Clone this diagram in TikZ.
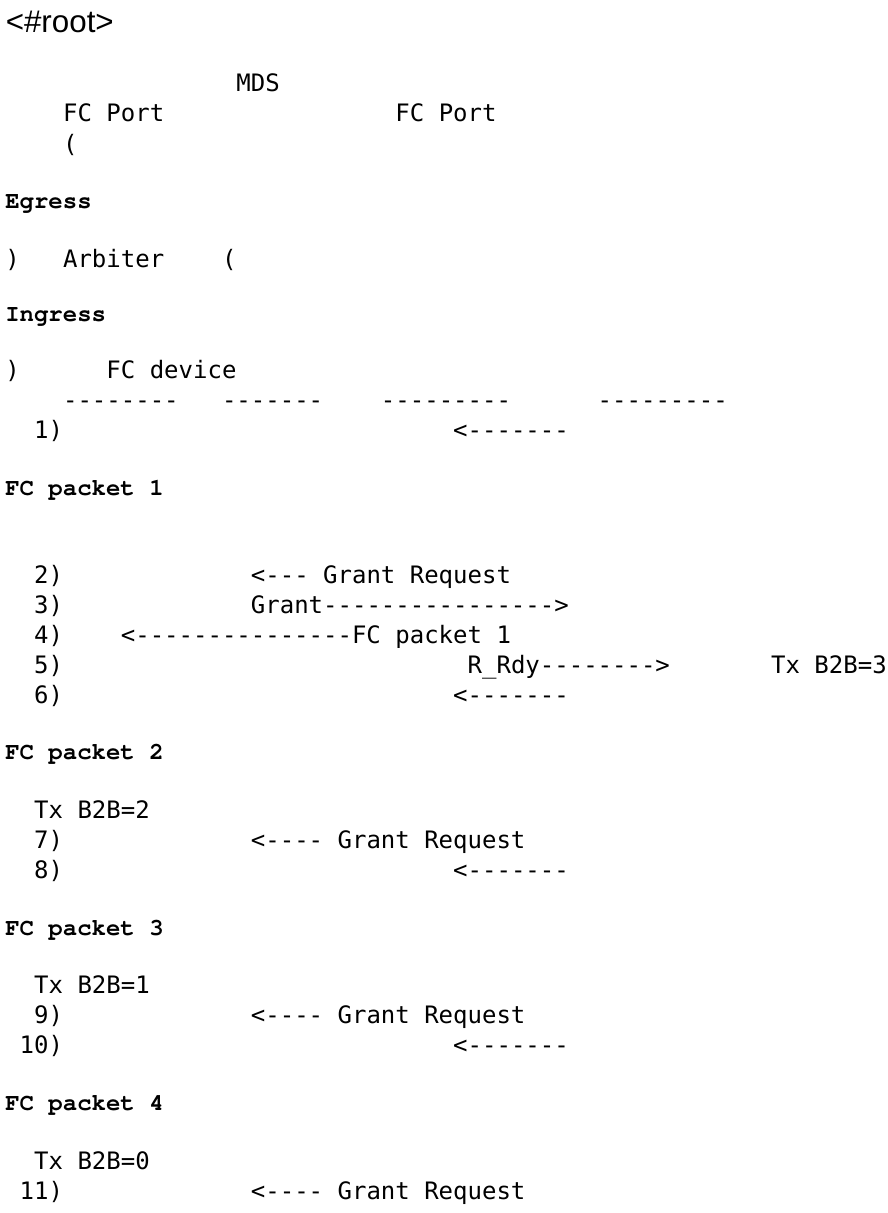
\documentclass[tikz,border=0pt]{standalone}
\usepackage{fontspec}
\setmonofont{DejaVu Sans Mono}
\newfontfamily\courb{texgyrecursor}[Extension=.otf,UprightFont=*-bold]
\newfontfamily\arialf{Liberation Sans}
\newcommand\seg[5]{\node[#4] (#1) at ({5+14.45*#2},#3) {#5};}
\begin{document}
\begin{tikzpicture}[x=0.75pt,y=-0.75pt,
  mono/.style={font=\ttfamily\fontsize{18pt}{18pt}\selectfont, anchor=base west, inner sep=0pt, text=black},
  bold/.style={font=\courb\fontsize{18pt}{18pt}\selectfont, anchor=base west, inner sep=0pt, text=black},
  rootlbl/.style={font=\arialf\fontsize{23.5pt}{23.5pt}\selectfont, anchor=base west, inner sep=0pt, text=black}]
\fill[white] (0,0) rectangle (888,1213);
\useasboundingbox (0,0) rectangle (888,1213);
% header
\node[rootlbl] (root) at (5.5,33) {<\#root>};
\seg{mds}{16}{92}{mono}{MDS}
\seg{port1}{4}{122}{mono}{FC Port}
\seg{port2}{27}{122}{mono}{FC Port}
\seg{lpar1}{4}{152}{mono}{(}
\seg{egress}{0}{208.5}{bold}{Egress}
\seg{rpar1}{0}{267}{mono}{)}
\seg{arb}{4}{267}{mono}{Arbiter}
\seg{lpar2}{15}{267}{mono}{(}
\seg{ingress}{0}{321.5}{bold}{Ingress}
\seg{rpar2}{0}{378.5}{mono}{)}
\seg{dev}{7}{378.5}{mono}{FC device}
\seg{dashA}{4}{408.5}{mono}{--------}
\seg{dashB}{15}{408.5}{mono}{-------}
\seg{dashC}{26}{408.5}{mono}{---------}
\seg{dashD}{41}{408.5}{mono}{---------}
% step 1
\seg{n1}{2}{438.5}{mono}{1)}
\seg{a1}{31}{438.5}{mono}{<-------}
\seg{p1}{0}{495.5}{bold}{FC packet 1}
% steps 2-6
\seg{n2}{2}{583.3}{mono}{2)}
\seg{a2}{17}{583.3}{mono}{<--- Grant Request}
\seg{n3}{2}{613.3}{mono}{3)}
\seg{a3}{17}{613.3}{mono}{Grant---------------->}
\seg{n4}{2}{643.3}{mono}{4)}
\seg{a4}{8}{643.3}{mono}{<---------------FC packet 1}
\seg{n5}{2}{673.3}{mono}{5)}
\seg{a5}{32}{673.3}{mono}{R\_Rdy-------->}
\seg{t3}{53}{673.3}{mono}{Tx B2B=3}
\seg{n6}{2}{703.3}{mono}{6)}
\seg{a6}{31}{703.3}{mono}{<-------}
\seg{p2}{0}{759.8}{bold}{FC packet 2}
\seg{t2}{2}{818.3}{mono}{Tx B2B=2}
\seg{n7}{2}{848.3}{mono}{7)}
\seg{a7}{17}{848.3}{mono}{<---- Grant Request}
\seg{n8}{2}{878.3}{mono}{8)}
\seg{a8}{31}{878.3}{mono}{<-------}
\seg{p3}{0}{935}{bold}{FC packet 3}
\seg{t1}{2}{993.5}{mono}{Tx B2B=1}
\seg{n9}{2}{1023.5}{mono}{9)}
\seg{a9}{17}{1023.5}{mono}{<---- Grant Request}
\seg{n10}{1}{1053.5}{mono}{10)}
\seg{a10}{31}{1053.5}{mono}{<-------}
\seg{p4}{0}{1110.5}{bold}{FC packet 4}
\seg{t0}{2}{1169}{mono}{Tx B2B=0}
\seg{n11}{1}{1199}{mono}{11)}
\seg{a11}{17}{1199}{mono}{<---- Grant Request}
\end{tikzpicture}
\end{document}
